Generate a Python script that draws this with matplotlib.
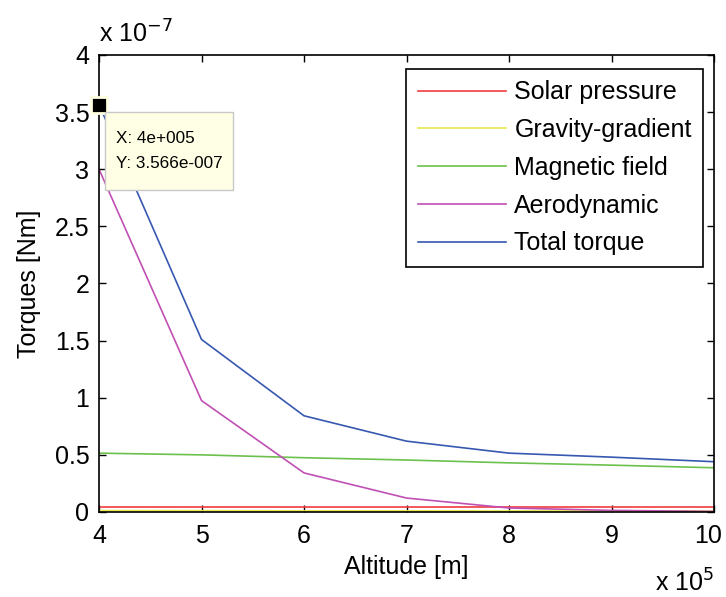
import matplotlib
matplotlib.use("Agg")
import matplotlib.pyplot as plt
from matplotlib.ticker import FuncFormatter, MultipleLocator

plt.rcParams['font.family'] = ['Liberation Sans', 'DejaVu Sans']

# altitude [m] and torques [Nm]
altitude = [4e5, 5e5, 6e5, 7e5, 8e5, 9e5, 10e5]
solar_pressure = [0.040e-7, 0.040e-7, 0.040e-7, 0.040e-7, 0.040e-7, 0.040e-7, 0.040e-7]
gravity_gradient = [0.012e-7, 0.011e-7, 0.010e-7, 0.010e-7, 0.009e-7, 0.009e-7, 0.008e-7]
magnetic_field = [0.515e-7, 0.50e-7, 0.475e-7, 0.455e-7, 0.43e-7, 0.41e-7, 0.387e-7]
aerodynamic = [3.0e-7, 0.975e-7, 0.342e-7, 0.122e-7, 0.035e-7, 0.014e-7, 0.005e-7]
total_torque = [3.566e-7, 1.51e-7, 0.842e-7, 0.62e-7, 0.515e-7, 0.48e-7, 0.44e-7]

labels = ['Solar pressure', 'Gravity-gradient', 'Magnetic field', 'Aerodynamic', 'Total torque']
colors = ['#F03C3C', '#E8E848', '#6CC04C', '#C050B4', '#3658B0']

fig = plt.figure(figsize=(7.26, 5.97), dpi=100)
ax = fig.add_axes([0.1364, 0.1424, 0.8471, 0.7655])

series = [solar_pressure, gravity_gradient, magnetic_field, aerodynamic, total_torque]
for vals, lab, col in zip(series, labels, colors):
    ax.plot(altitude, vals, color=col, lw=1.2, label=lab)

ax.set_xlim(4e5, 10e5)
ax.set_ylim(0, 4e-7)
ax.xaxis.set_major_locator(MultipleLocator(1e5))
ax.yaxis.set_major_locator(MultipleLocator(0.5e-7))


def xfmt(v, p):
    # the last label is drawn by hand a little to the left, as in the original
    if v >= altitude[-1] - 1:
        return ''
    return '%g' % round(v / 1e5, 3)


ax.xaxis.set_major_formatter(FuncFormatter(xfmt))
ax.yaxis.set_major_formatter(FuncFormatter(lambda v, p: '%g' % round(v / 1e-7, 3)))
ax.tick_params(direction='in', top=True, right=True, length=5, width=1,
               labelsize=18)
ax.tick_params(axis='x', pad=9)
ax.tick_params(axis='y', pad=7)
for s in ax.spines.values():
    s.set_linewidth(1.2)

ax.annotate('%g' % (altitude[-1] / 1e5), xy=(1, 0), xycoords='axes fraction',
            xytext=(-4.5, -9), textcoords='offset points', ha='center', va='top',
            fontsize=18)

ax.set_xlabel('Altitude [m]', fontsize=18, labelpad=5)
ax.set_ylabel('Torques [Nm]', fontsize=18, labelpad=10)

# MATLAB style exponent labels
fig.text(0.136, 0.92, r'x 10$^{-7}$', fontsize=18, ha='left', va='bottom')
fig.text(0.983, 0.0, r'x 10$^{5}$', fontsize=18, ha='right', va='bottom')

leg = ax.legend(loc='upper right', bbox_to_anchor=(0.982, 0.969), borderaxespad=0,
                fancybox=False, edgecolor='black', framealpha=1, fontsize=18,
                handlelength=3.55, handletextpad=0.32, labelspacing=0.55,
                borderpad=0.45)
leg.get_frame().set_linewidth(1.2)

# data tip
ax.plot([altitude[0]], [total_torque[0]], marker='s', ms=11.5, color='black',
        mec='#FFFFE1', mew=2, clip_on=False, zorder=5)
ax.annotate('X: 4e+005\nY: 3.566e-007', xy=(altitude[0], total_torque[0]),
            xytext=(12, -19), textcoords='offset points', ha='left', va='top',
            fontsize=12.3, linespacing=1.85,
            bbox=dict(boxstyle='square,pad=0.65', fc='#FFFFE6', ec='#C8C8C8', lw=1,
                      mutation_aspect=1.7),
            zorder=6)

fig.savefig('out.png', dpi=100)
